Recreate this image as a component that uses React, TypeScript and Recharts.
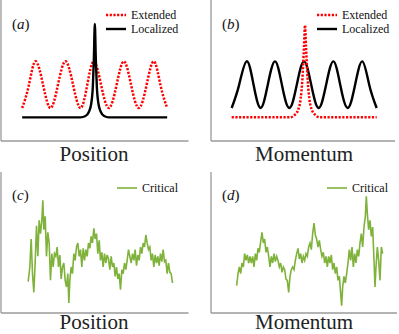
import React from 'react';
import { LineChart, Line, XAxis, YAxis, ReferenceLine } from 'recharts';

// ---- Panel (a): Position, extended vs localized ----
const extendedPosX = [65, 85, 105, 128, 150, 172, 195, 218, 240, 260, 280, 302, 325, 348, 370, 392, 415, 438, 460, 480, 500];
const extendedPosY = [29, 46, 64, 46, 29, 46, 64, 46, 29, 46, 64, 46, 29, 46, 64, 46, 29, 46, 64, 46, 29];
const localizedPosX = [65, 200, 240, 255, 265, 272, 277, 280, 283, 286, 289, 294, 301, 311, 325, 380, 500];
const localizedPosY = [22, 22, 22, 23, 26, 32, 45, 65, 92, 65, 45, 32, 26, 23, 22, 22, 22];

// ---- Panel (b): Momentum, extended vs localized ----
const localizedMomX = [95, 117, 140, 161, 182, 203, 225, 246, 268, 290, 312, 334, 356, 378, 400, 421, 443, 465, 487, 508, 530];
const localizedMomY = [29, 46, 64, 46, 29, 46, 64, 46, 29, 46, 64, 46, 29, 46, 64, 46, 29, 46, 64, 46, 29];
const extendedMomX = [95, 200, 270, 285, 295, 302, 307, 312, 315, 318, 323, 328, 335, 345, 360, 450, 530];
const extendedMomY = [22, 22, 22, 24, 28, 36, 50, 75, 91, 75, 50, 36, 28, 24, 22, 22, 22];

// ---- Panel (c): Position, critical ----
const criticalPosX = [83, 88, 92, 96, 100, 104, 108, 112, 116, 120, 124, 127, 130, 134, 138, 142, 146, 150, 154, 158, 162, 166, 170, 174, 178, 182, 186, 190, 194, 198, 202, 205, 208, 212, 216, 220, 224, 228, 232, 236, 240, 244, 248, 252, 256, 260, 264, 268, 272, 276, 280, 284, 288, 292, 296, 300, 304, 308, 312, 316, 320, 324, 328, 332, 336, 340, 344, 348, 352, 356, 360, 364, 368, 372, 376, 380, 384, 388, 392, 396, 400, 404, 408, 412, 416, 420, 424, 428, 432, 436, 440, 444, 448, 452, 456, 460, 464, 468, 472, 476, 480, 484, 488, 492, 496, 500, 504, 508, 512, 516];
const criticalPosY = [24, 35, 56, 30, 16, 38, 66, 43, 70, 60, 70, 85, 63, 73, 43, 61, 53, 25, 45, 35, 45, 43, 50, 35, 44, 26, 35, 38, 25, 20, 30, 8, 25, 35, 30, 45, 40, 50, 53, 43, 48, 35, 49, 40, 48, 43, 53, 49, 58, 53, 64, 56, 60, 45, 55, 40, 46, 35, 45, 38, 44, 41, 33, 43, 35, 38, 28, 35, 26, 30, 18, 33, 30, 38, 33, 40, 48, 43, 38, 45, 40, 48, 36, 44, 40, 50, 45, 53, 50, 59, 53, 48, 50, 40, 45, 35, 44, 38, 43, 36, 45, 39, 48, 39, 40, 30, 38, 31, 30, 23];

// ---- Panel (d): Momentum, critical ----
const criticalMomX = [110, 114, 118, 122, 126, 130, 134, 138, 142, 146, 150, 154, 158, 162, 166, 170, 174, 178, 182, 186, 190, 194, 198, 202, 206, 210, 214, 218, 222, 226, 230, 234, 238, 242, 246, 250, 254, 258, 262, 266, 270, 274, 278, 282, 286, 290, 294, 298, 302, 306, 310, 314, 318, 322, 326, 330, 334, 338, 342, 346, 350, 354, 358, 362, 366, 370, 374, 378, 382, 386, 390, 394, 398, 402, 406, 410, 414, 418, 422, 425, 428, 432, 436, 440, 444, 448, 452, 456, 460, 464, 468, 472, 476, 480, 484, 488, 492, 496, 499, 502, 506, 510, 514, 518, 522, 525, 528, 532, 536, 540, 544, 548];
const criticalMomY = [21, 30, 35, 30, 38, 35, 45, 40, 44, 38, 43, 38, 43, 35, 45, 40, 49, 46, 54, 61, 53, 56, 46, 50, 43, 35, 43, 38, 45, 39, 43, 40, 35, 38, 31, 35, 33, 26, 25, 16, 28, 33, 35, 33, 40, 45, 49, 41, 45, 38, 43, 40, 45, 43, 50, 53, 48, 60, 68, 59, 56, 50, 55, 48, 43, 46, 38, 43, 35, 43, 38, 44, 33, 38, 30, 35, 25, 28, 15, 6, 20, 28, 23, 30, 38, 48, 40, 50, 35, 45, 38, 48, 43, 53, 60, 50, 65, 73, 88, 75, 63, 70, 58, 65, 40, 20, 35, 50, 40, 25, 50, 45];

const xAxisLabels = ['Position', 'Momentum'];
const panelTags = ['a', 'b', 'c', 'd'];
const legendTop = ['Extended', 'Localized'];
const legendBottom = 'Critical';

const zip = (xs: number[], ys: number[]) => xs.map((x, i) => ({ x, y: ys[i] }));

const RED = '#ff0000';
const BLACK = '#000000';
const GREEN = '#7fb23a';
const SPINE = '#9a9a9a';
const FONT = '"Liberation Serif", "DejaVu Serif", serif';

type Series = { data: { x: number; y: number }[]; color: string; dash?: string; width: number; curve: any };

function Panel({ px, py, pw, ph, xDomain, yDomain, series }: {
  px: number; py: number; pw: number; ph: number;
  xDomain: [number, number]; yDomain: [number, number]; series: Series[];
}) {
  const m = 4;
  return (
    <div style={{ position: 'absolute', left: px - m, top: py - m }}>
      <LineChart width={pw + 2 * m} height={ph + 2 * m} margin={{ top: m, right: m, bottom: m, left: m }}>
        <XAxis type="number" dataKey="x" domain={xDomain} hide allowDataOverflow />
        <YAxis type="number" dataKey="y" domain={yDomain} hide allowDataOverflow />
        <ReferenceLine x={xDomain[0]} stroke={SPINE} strokeWidth={1.3} />
        <ReferenceLine y={yDomain[0]} stroke={SPINE} strokeWidth={1.3} />
        {series.map((s, i) => (
          <Line
            key={i}
            data={s.data}
            dataKey="y"
            type={s.curve}
            stroke={s.color}
            strokeWidth={s.width}
            strokeDasharray={s.dash}
            dot={false}
            activeDot={false}
            isAnimationActive={false}
          />
        ))}
      </LineChart>
    </div>
  );
}

function Tag({ x, y, letter }: { x: number; y: number; letter: string }) {
  return (
    <text x={x} y={y} fontFamily={FONT} fontSize={15} fill="#111">
      <tspan>(</tspan>
      <tspan fontStyle="italic">{letter}</tspan>
      <tspan>)</tspan>
    </text>
  );
}

function LegendItem({ x, y, label, color, dash, width }: { x: number; y: number; label: string; color: string; dash?: string; width: number }) {
  return (
    <g>
      <line x1={x} x2={x + 20} y1={y} y2={y} stroke={color} strokeWidth={width} strokeDasharray={dash} />
      <text x={x + 25} y={y + 4} fontFamily={FONT} fontSize={12} fill="#111">{label}</text>
    </g>
  );
}

export default function App() {
  const dotted = '2.2 1.5';
  return (
    <div style={{ position: 'absolute', left: 0, top: 0, width: 399, height: 334, background: '#fff', overflow: 'hidden' }}>
      <Panel px={0.5} py={0} pw={187.5} ph={141} xDomain={[1.5, 564]} yDomain={[4.25, 110]}
        series={[
          { data: zip(extendedPosX, extendedPosY), color: RED, dash: dotted, width: 2.5, curve: 'natural' },
          { data: zip(localizedPosX, localizedPosY), color: BLACK, width: 2.4, curve: 'monotone' },
        ]} />
      <Panel px={211} py={0} pw={184} ph={141} xDomain={[33, 585]} yDomain={[4.25, 110]}
        series={[
          { data: zip(localizedMomX, localizedMomY), color: BLACK, width: 2.4, curve: 'natural' },
          { data: zip(extendedMomX, extendedMomY), color: RED, dash: dotted, width: 2.5, curve: 'monotone' },
        ]} />
      <Panel px={0.5} py={172} pw={187.5} ph={141} xDomain={[1.5, 564]} yDomain={[0.5, 106.25]}
        series={[
          { data: zip(criticalPosX, criticalPosY), color: GREEN, width: 1.6, curve: 'linear' },
        ]} />
      <Panel px={211} py={172} pw={186} ph={141} xDomain={[33, 591]} yDomain={[0.5, 106.25]}
        series={[
          { data: zip(criticalMomX, criticalMomY), color: GREEN, width: 1.6, curve: 'linear' },
        ]} />
      <svg width={399} height={334} style={{ position: 'absolute', left: 0, top: 0, pointerEvents: 'none' }}>
        <Tag x={12} y={29} letter={panelTags[0]} />
        <Tag x={222} y={29} letter={panelTags[1]} />
        <Tag x={12} y={200} letter={panelTags[2]} />
        <Tag x={222} y={200} letter={panelTags[3]} />

        <LegendItem x={106} y={15} label={legendTop[0]} color={RED} dash={dotted} width={2.5} />
        <LegendItem x={106} y={29} label={legendTop[1]} color={BLACK} width={2.4} />
        <LegendItem x={317} y={15} label={legendTop[0]} color={RED} dash={dotted} width={2.5} />
        <LegendItem x={317} y={29} label={legendTop[1]} color={BLACK} width={2.4} />
        <LegendItem x={117} y={188} label={legendBottom} color={GREEN} width={1.6} />
        <LegendItem x={327} y={188} label={legendBottom} color={GREEN} width={1.6} />

        <text x={94} y={161} textAnchor="middle" fontFamily={FONT} fontSize={21} fill="#222">{xAxisLabels[0]}</text>
        <text x={304} y={161} textAnchor="middle" fontFamily={FONT} fontSize={21} fill="#222">{xAxisLabels[1]}</text>
        <text x={94} y={329} textAnchor="middle" fontFamily={FONT} fontSize={21} fill="#222">{xAxisLabels[0]}</text>
        <text x={304} y={329} textAnchor="middle" fontFamily={FONT} fontSize={21} fill="#222">{xAxisLabels[1]}</text>
      </svg>
    </div>
  );
}
